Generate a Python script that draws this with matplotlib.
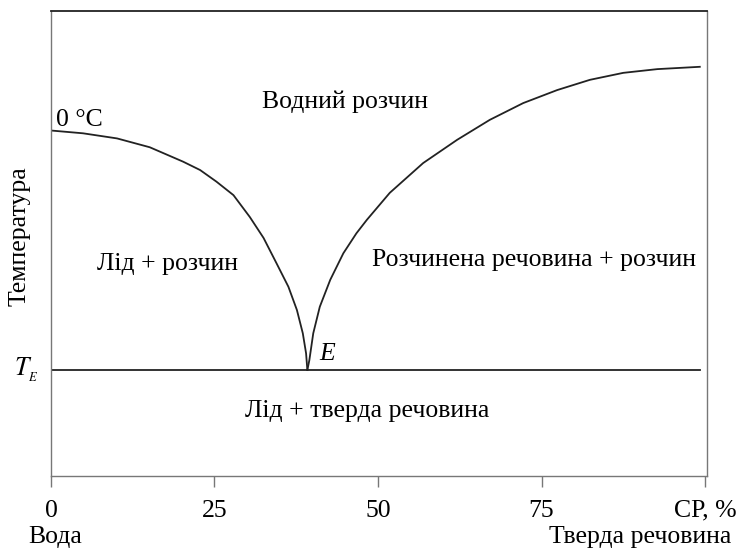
import matplotlib.pyplot as plt

plt.rcParams['font.family'] = ['Liberation Serif', 'DejaVu Serif']
plt.rcParams['mathtext.fontset'] = 'stix'

# liquidus of ice (left branch)
ice_x = [0, 4.9, 10.1, 15.1, 20.2, 22.8, 25.3, 27.9, 30.4, 32.5, 34.5, 36.3, 37.6, 38.5, 39.0, 39.2]
ice_t = [74.3, 73.7, 72.6, 70.7, 67.6, 65.8, 63.3, 60.4, 55.7, 51.2, 45.7, 40.7, 35.7, 30.7, 26.4, 22.8]

# solubility curve of the solute (right branch)
sol_x = [39.2, 39.5, 40.1, 41.1, 42.7, 44.7, 46.7, 48.3, 51.8, 56.9, 62.1, 67.1, 72.2, 77.4,
         82.4, 87.5, 92.7, 99.2]
sol_t = [22.8, 24.9, 30.7, 36.4, 42.2, 47.9, 52.2, 55.1, 60.9, 67.3, 72.3, 76.6, 80.2, 83.0,
         85.2, 86.7, 87.5, 88.0]

# eutectic line
eut_x = [0, 99.3]
eut_t = [22.8, 22.8]

ticks = [0, 25, 50, 75, 100]
tick_labels = ['0', '25', '50', '75', 'СР, %']

fig = plt.figure(figsize=(7.4, 5.5), dpi=100)
ax = fig.add_axes([0.0689, 0.1345, 0.8865, 0.8455])

line_col = '#222222'
for xs, ys in [(ice_x, ice_t), (sol_x, sol_t), (eut_x, eut_t)]:
    ax.plot(xs, ys, color=line_col, lw=1.3, solid_joinstyle='round')

ax.set_xlim(0, 100.3)
ax.set_ylim(0, 100)

fs = 18.5
ax.set_xticks(ticks)
ax.set_xticklabels(tick_labels, fontsize=fs)
ax.tick_params(axis='x', direction='out', length=8, width=1, color='#777777', pad=9)
ax.set_yticks([])
for side in ['left', 'right', 'bottom']:
    ax.spines[side].set_color('#777777')
    ax.spines[side].set_linewidth(1.0)
ax.spines['top'].set_color('#222222')
ax.spines['top'].set_linewidth(1.3)

ax.set_ylabel('Температура', fontsize=fs)
ax.yaxis.set_label_coords(-0.031, 0.515)

ax.text(0.8, 74.2, '0 °C', fontsize=fs, ha='left', va='bottom')
ax.text(45.0, 80.5, 'Водний розчин', fontsize=fs, ha='center', va='center')
ax.text(17.8, 45.5, 'Лід + розчин', fontsize=fs, ha='center', va='center')
ax.text(73.8, 46.5, 'Розчинена речовина + розчин', fontsize=fs, ha='center', va='center')
ax.text(41.0, 25.0, 'E', fontsize=fs, style='italic', ha='left', va='baseline')
ax.text(48.3, 14.0, 'Лід + тверда речовина', fontsize=fs, ha='center', va='center')
ax.text(-1.9, 22.8, '$T_{_E}$', fontsize=fs, ha='right', va='center')

ax.text(0.6, -13.2, 'Вода', fontsize=fs, ha='center', va='center')
ax.text(104.0, -13.2, 'Тверда речовина', fontsize=fs, ha='right', va='center', clip_on=False)

fig.savefig('out.png', dpi=100)
